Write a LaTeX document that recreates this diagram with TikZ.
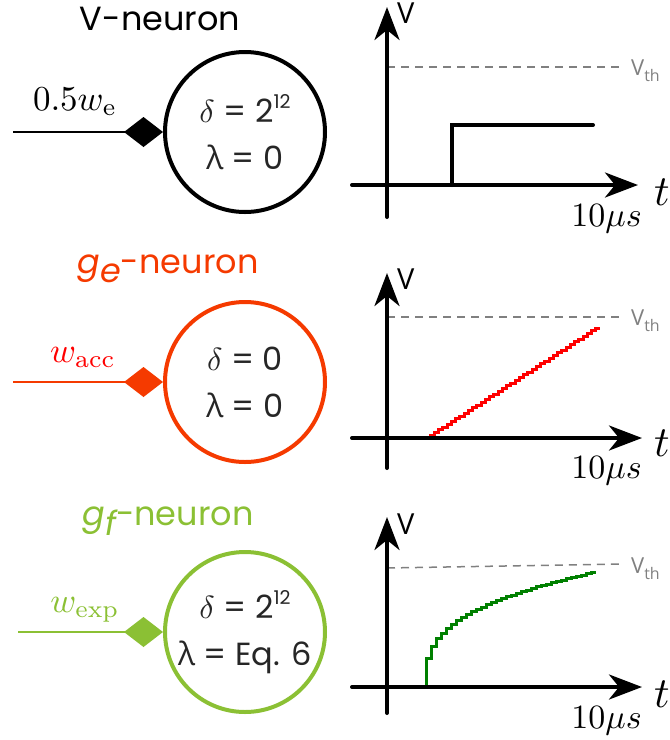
\documentclass[tikz,border=0pt]{standalone}
\usepackage{fontspec}
\newfontfamily\gothic{Poppins}
\newfontfamily\osans{Open Sans}
\usetikzlibrary{arrows.meta}
\definecolor{orangeR}{RGB}{245,58,0}
\definecolor{lime}{RGB}{139,192,52}
\definecolor{dkgreen}{RGB}{0,128,0}
\definecolor{thgray}{RGB}{128,128,128}
\tikzset{
  neuron/.style={circle, draw, line width=4pt, minimum size=160pt, inner sep=0pt,
    align=center, font=\gothic\fontsize{32}{47}\selectfont, text=black!85},
  title/.style={font=\gothic\fontsize{33.5}{35}\selectfont},
  syn/.style={line width=2pt, -{Diamond[length=39pt,width=30pt]}},
  axis/.style={line width=4pt, line cap=round, -{Stealth[length=33pt,width=25pt,inset=10pt]}},
  thr/.style={thgray, line width=1.5pt, dash pattern=on 8pt off 6pt},
  vlab/.style={font=\osans\fontsize{29}{29}\selectfont, anchor=base west, inner sep=0pt},
  thlab/.style={font=\osans\fontsize{22}{22}\selectfont, text=thgray, anchor=base west, inner sep=0pt},
  tlab/.style={anchor=base, inner sep=0pt},
  uslab/.style={anchor=base east, inner sep=0pt},
  wlab/.style={anchor=base, inner sep=0pt},
}
\newcommand{\sups}[1]{\raisebox{.42em}{\fontsize{19}{19}\selectfont #1}}
\newcommand{\subt}[1]{\raisebox{-.3em}{\fontsize{16}{16}\selectfont #1}}
\newcommand{\dlt}{{\fontsize{10}{12}\selectfont\scalebox{3.2}{$\delta$}}}
\begin{document}
\begin{tikzpicture}[x=1pt,y=-1pt]
\useasboundingbox (0,0) rectangle (670,740);

% ---------- Row 1: V-neuron ----------
\node[title] (t1) at (160,19) {V-neuron};
\node[neuron] (n1) at (245,132) {\dlt{} = 2\sups{12}\\{\osans λ} = 0};
\coordinate (s1) at (13,132);
\draw[syn] (s1) -- (n1);
\node[wlab] (w1) at (75,110) {\scalebox{3.5}{$0.5w_{\mathrm{e}}$}};

\coordinate (y1b) at (387,217); \coordinate (y1t) at (387,7);
\coordinate (x1l) at (352,185); \coordinate (x1r) at (638,185);
\draw[thr] (387,67) -- (622,67);
\draw[axis] (y1b) -- (y1t);
\draw[axis] (x1l) -- (x1r);
\draw[line width=4pt, line cap=round] (452,185) -- (452,125) -- (593,125);
\node[vlab] (v1) at (397,23) {V};
\node[thlab] (th1) at (631,75) {V\subt{th}};
\node[tlab] (tt1) at (662,205) {\scalebox{4.3}{$t$}};
\node[uslab] (us1) at (642,226) {\scalebox{3.4}{$10\mu s$}};

% ---------- Row 2: g_e-neuron ----------
\node[title, text=orangeR] (t2) at (168,269) {{\itshape g\raisebox{-.28em}{e}}-neuron};
\node[neuron, draw=orangeR] (n2) at (245,382) {\dlt{} = 0\\{\osans λ} = 0};
\coordinate (s2) at (13,382);
\draw[syn, orangeR] (s2) -- (n2);
\node[wlab, text=red] (w2) at (83,362) {\scalebox{3.5}{$w_{\mathrm{acc}}$}};

\coordinate (y2b) at (387,468); \coordinate (y2t) at (387,273);
\coordinate (x2l) at (352,438); \coordinate (x2r) at (642,438);
\draw[thr] (387,317) -- (623,317);
\draw[red, line width=3pt] (430,438)
  \foreach \k in {1,...,40} { -- ({430+(\k-1)*4.25},{438-\k*2.75}) -- ({430+\k*4.25},{438-\k*2.75}) };
\draw[axis] (y2b) -- (y2t);
\draw[axis] (x2l) -- (x2r);
\node[vlab] (v2) at (397,289) {V};
\node[thlab] (th2) at (631,325) {V\subt{th}};
\node[tlab] (tt2) at (662,456) {\scalebox{4.3}{$t$}};
\node[uslab] (us2) at (642,478) {\scalebox{3.4}{$10\mu s$}};

% ---------- Row 3: g_f-neuron ----------
\node[title, text=lime] (t3) at (168,521) {{\itshape g\raisebox{-.28em}{f}}-neuron};
\node[neuron, draw=lime] (n3) at (245,632) {\dlt{} = 2\sups{12}\\{\osans λ} = Eq. 6};
\coordinate (s3) at (18,632);
\draw[syn, lime] (s3) -- (n3);
\node[wlab, text=lime] (w3) at (85,612) {\scalebox{3.5}{$w_{\mathrm{exp}}$}};

\coordinate (y3b) at (387,713); \coordinate (y3t) at (387,517);
\coordinate (x3l) at (352,687); \coordinate (x3r) at (642,687);
\draw[thr] (387,568) -- (622,564);
\draw[dkgreen, line width=3pt] (426,687)
  \foreach \k in {1,...,34} { -- ({426+(\k-1)*5},{687-115*pow((\k-0.5)*5/171,1/3)}) -- ({426+\k*5},{687-115*pow((\k-0.5)*5/171,1/3)}) };
\draw[axis] (y3b) -- (y3t);
\draw[axis] (x3l) -- (x3r);
\node[vlab] (v3) at (397,534) {V};
\node[thlab] (th3) at (631,573) {V\subt{th}};
\node[tlab] (tt3) at (662,707) {\scalebox{4.3}{$t$}};
\node[uslab] (us3) at (642,728) {\scalebox{3.4}{$10\mu s$}};
\end{tikzpicture}
\end{document}
